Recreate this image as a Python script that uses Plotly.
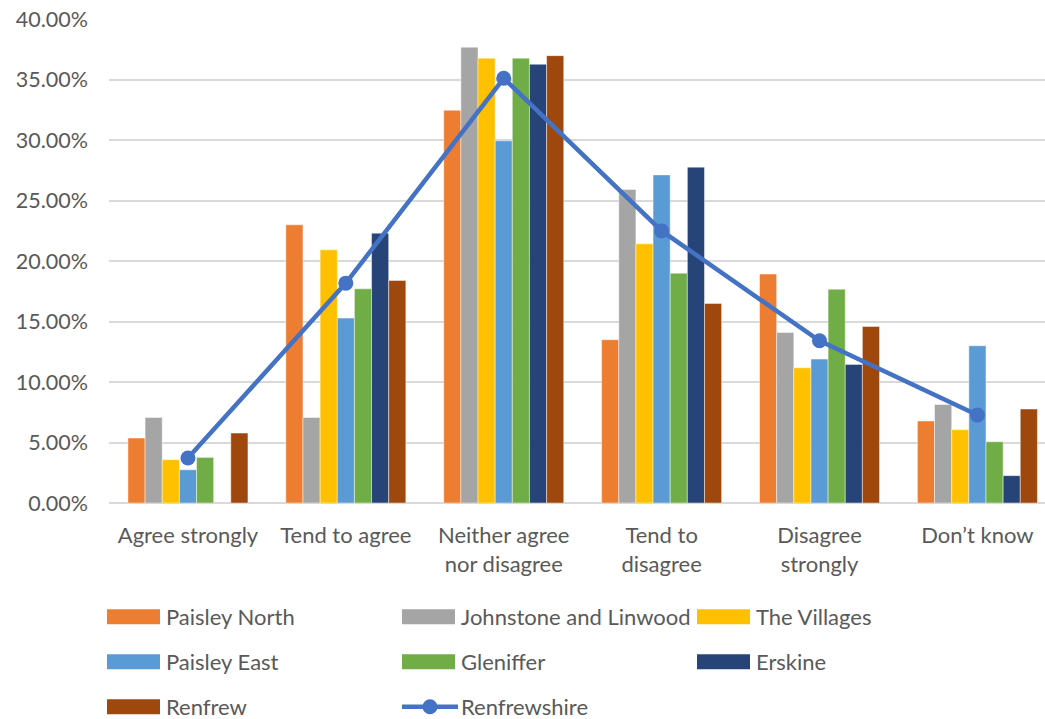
import plotly.graph_objects as go

categories = ["Agree strongly", "Tend to agree", "Neither agree<br>nor disagree",
              "Tend to<br>disagree", "Disagree<br>strongly", "Don\u2019t know"]

paisley_north = [0.0537, 0.230, 0.3248, 0.135, 0.1893, 0.0678]
johnstone_linwood = [0.0707, 0.0707, 0.3769, 0.2592, 0.141, 0.0815]
the_villages = [0.0358, 0.2093, 0.3678, 0.2143, 0.1118, 0.0606]
paisley_east = [0.0275, 0.1529, 0.2995, 0.2713, 0.119, 0.130]
gleniffer = [0.0377, 0.1771, 0.3678, 0.190, 0.1768, 0.0507]
erskine = [None, 0.2231, 0.3628, 0.2777, 0.1146, 0.0226]
renfrew = [0.0578, 0.184, 0.3699, 0.165, 0.146, 0.0777]
renfrewshire = [0.0372, 0.1818, 0.3512, 0.225, 0.1341, 0.0727]

y_ticks = [0, 0.05, 0.10, 0.15, 0.20, 0.25, 0.30, 0.35, 0.40]

series_names = ["Paisley North", "Johnstone and Linwood", "The Villages",
                "Paisley East", "Gleniffer", "Erskine", "Renfrew"]
series_values = [paisley_north, johnstone_linwood, the_villages, paisley_east,
                 gleniffer, erskine, renfrew]
series_colors = ["#ED7D31", "#A5A5A5", "#FFC000", "#5B9BD5", "#70AD47", "#264478", "#9E480E"]
line_name = "Renfrewshire"
line_color = "#4472C4"

FONT = "Lato"
TXT = "#595959"
W, H = 1045, 719
# plot area in page pixels: x 109..1045, y 19.3..503.3
L, T, R = 109, 19.3, 0
B = H - 503.3
pw, ph = W - L - R, H - T - B

fig = go.Figure()
for name, vals, col in zip(series_names, series_values, series_colors):
    fig.add_trace(go.Bar(x=categories, y=vals, name=name, marker_color=col,
                         marker_line=dict(color="rgba(255,255,255,0.45)", width=1),
                         showlegend=False))
fig.add_trace(go.Scatter(x=categories, y=renfrewshire, name=line_name, mode="lines+markers",
                         line=dict(color=line_color, width=4.5),
                         marker=dict(color=line_color, size=15), showlegend=False))

def px(x):
    return (x - L) / pw

def py(y):
    return (H - B - y) / ph

shapes, annots = [], []
legend_items = [(n, c, "bar") for n, c in zip(series_names, series_colors)] + [(line_name, line_color, "line")]
col_x = [107, 402, 697]
row_y = [617, 662, 707]
for i, (name, col, kind) in enumerate(legend_items):
    cx = col_x[i % 3]
    ry = row_y[i // 3]
    if kind == "bar":
        shapes.append(dict(type="rect", xref="paper", yref="paper",
                           x0=px(cx), x1=px(cx + 53), y0=py(ry - 7.5), y1=py(ry + 7.5),
                           fillcolor=col, line=dict(width=0)))
    else:
        shapes.append(dict(type="line", xref="paper", yref="paper",
                           x0=px(cx), x1=px(cx + 56), y0=py(ry), y1=py(ry),
                           line=dict(color=col, width=4.5)))
        shapes.append(dict(type="circle", xref="paper", yref="paper",
                           x0=px(cx + 28 - 7.5), x1=px(cx + 28 + 7.5),
                           y0=py(ry - 7.5), y1=py(ry + 7.5),
                           fillcolor=col, line=dict(width=0)))
    annots.append(dict(text=name, xref="paper", yref="paper", x=px(cx + 57), y=py(ry),
                       xanchor="left", yanchor="middle", showarrow=False,
                       font=dict(family=FONT, size=22, color=TXT)))

fig.update_layout(
    width=W, height=H,
    margin=dict(l=L, r=R, t=T, b=B, autoexpand=False),
    paper_bgcolor="white", plot_bgcolor="white",
    barmode="group", bargap=0.24, bargroupgap=0,
    font=dict(family=FONT, size=22, color=TXT),
    shapes=shapes, annotations=annots,
    showlegend=False,
)
fig.update_xaxes(range=[-0.5, 5.428], showgrid=False, showline=False, ticks="",
                 tickfont=dict(family=FONT, size=22, color=TXT), ticklabelstandoff=17,
                 fixedrange=True)
fig.update_yaxes(range=[0, 0.4002], tickmode="array", tickvals=y_ticks,
                 tickformat=".2%", showgrid=True, ticklabeloverflow="allow",
                 gridcolor="#D9D9D9", gridwidth=1.5, zeroline=True, zerolinecolor="#D9D9D9",
                 zerolinewidth=1.5, showline=False, ticks="",
                 tickfont=dict(family=FONT, size=21.5, color=TXT), ticklabelstandoff=20,
                 fixedrange=True)

fig.write_html("out.html", config={"displayModeBar": False},
               post_script="document.body.style.margin='0';document.body.style.overflow='hidden';")
